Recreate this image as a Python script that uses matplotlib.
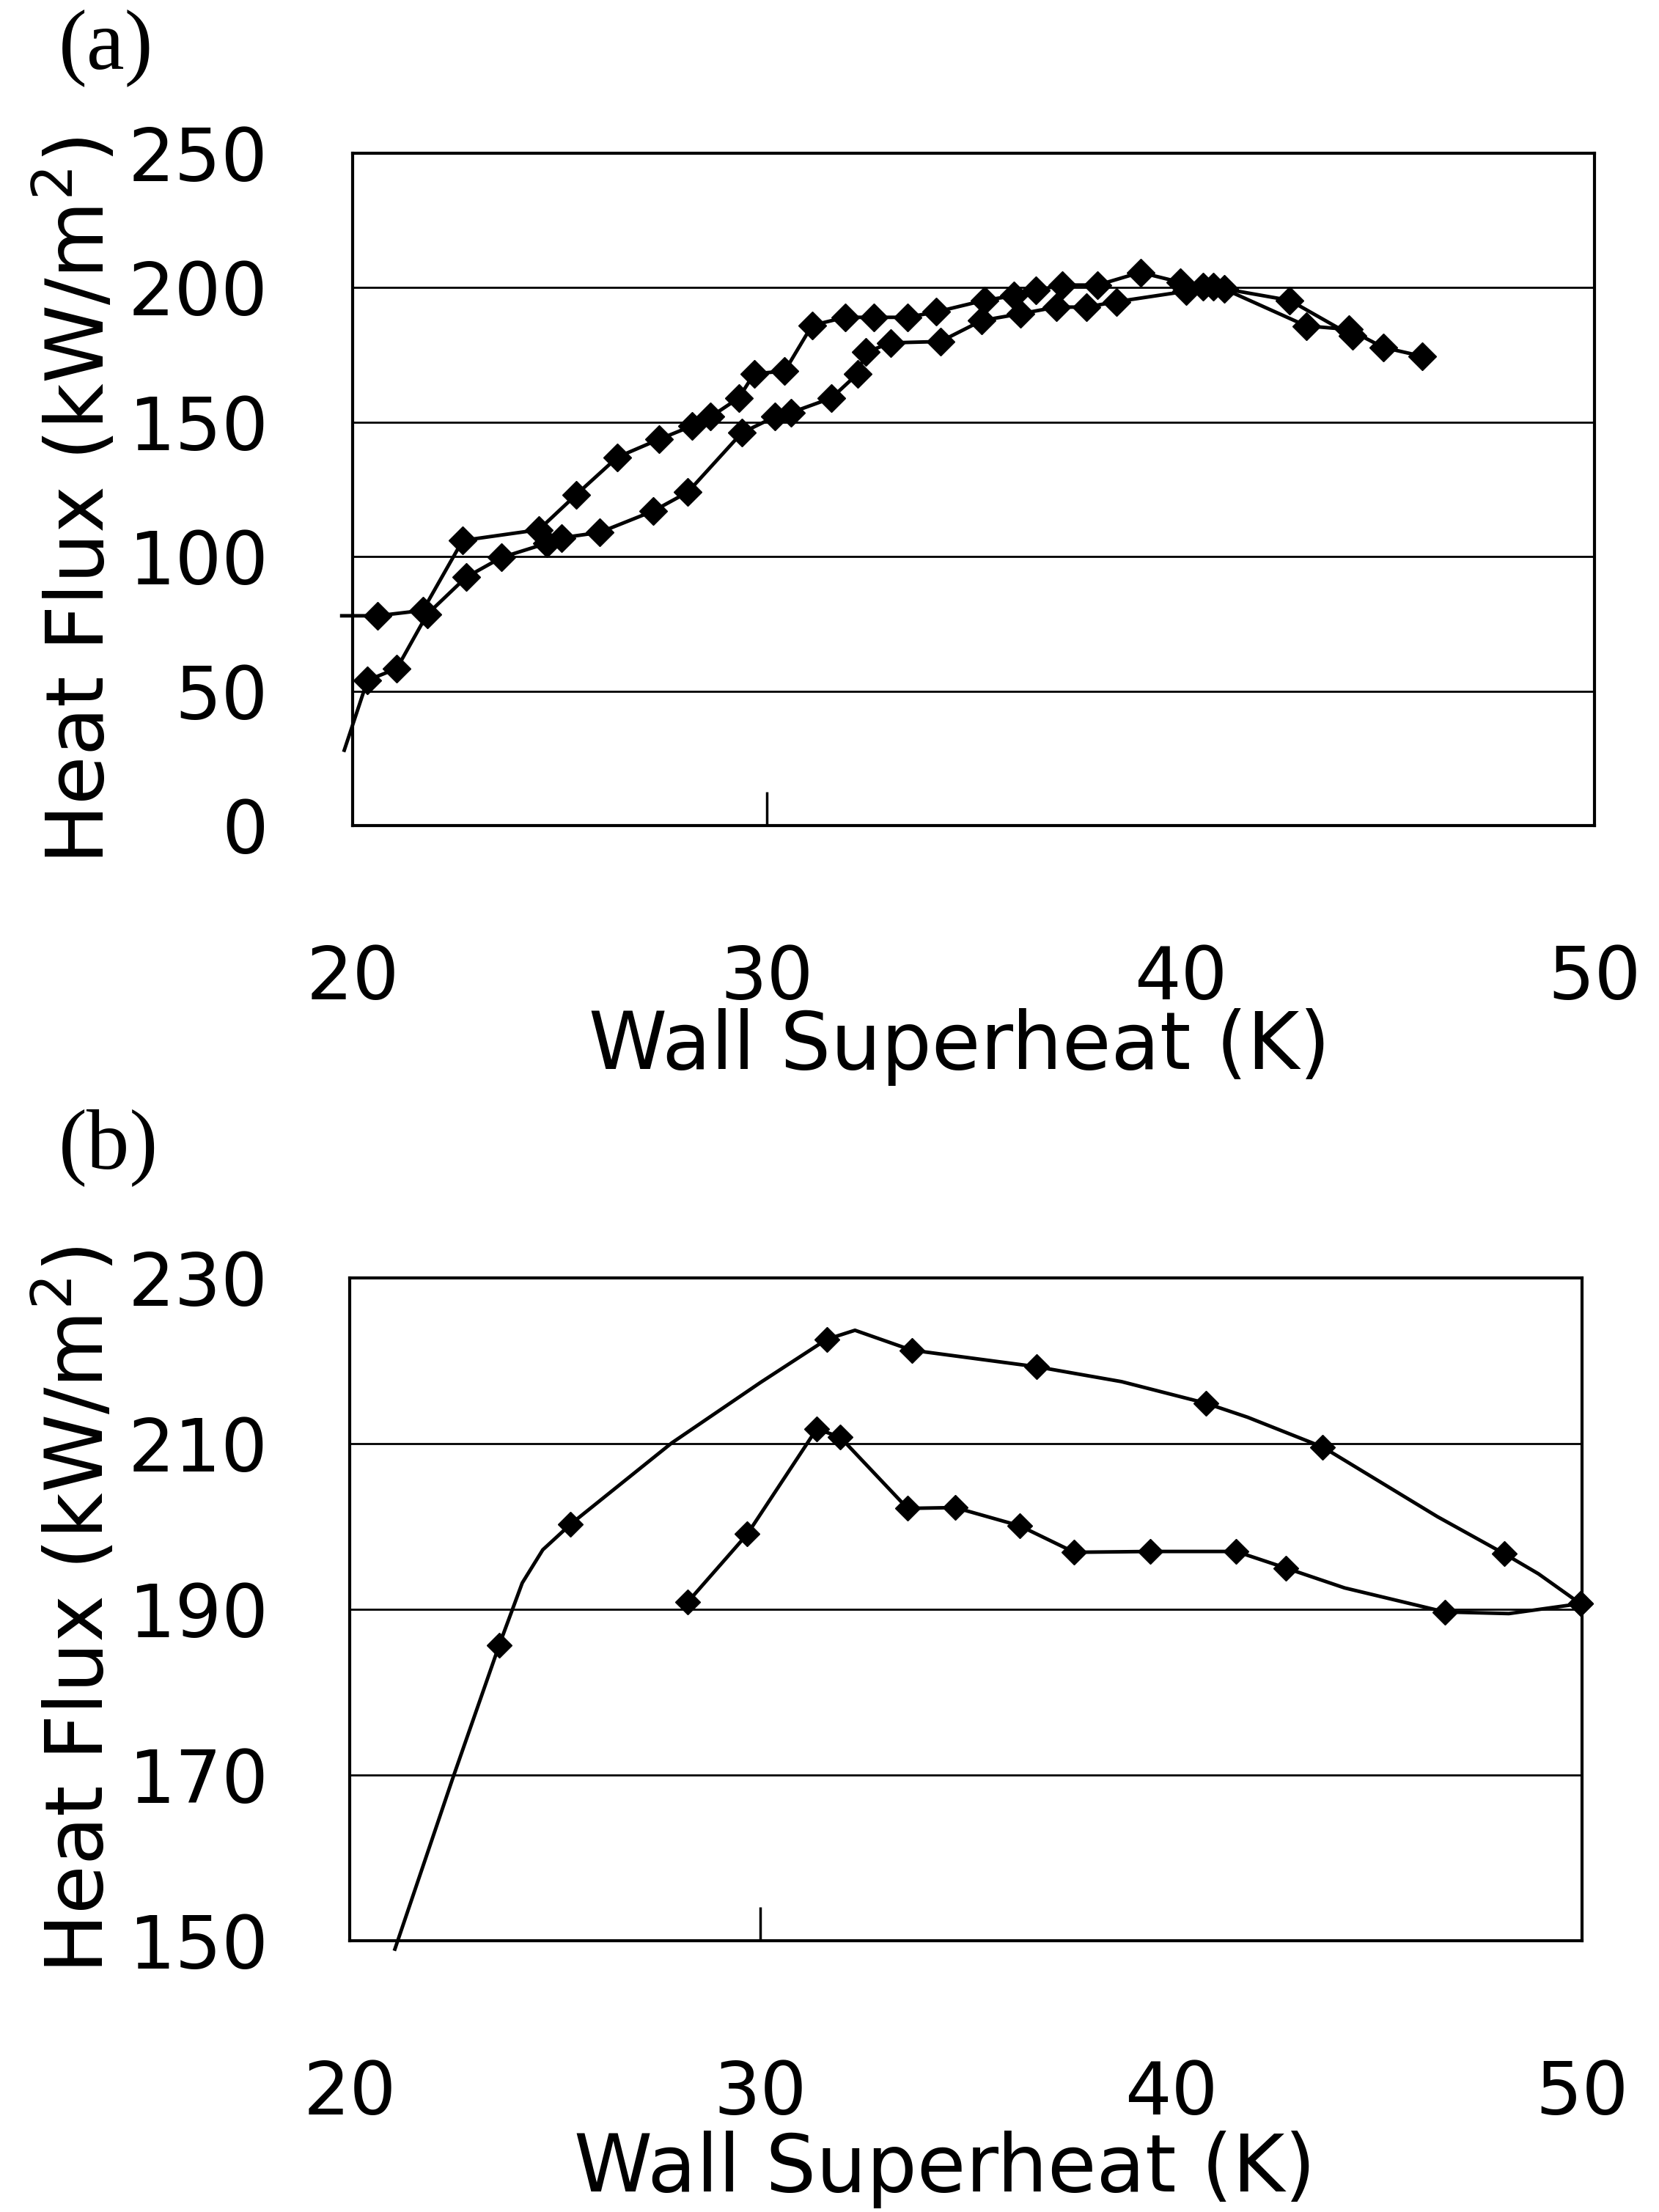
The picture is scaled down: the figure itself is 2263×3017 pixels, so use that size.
import numpy as np
import matplotlib
matplotlib.use('Agg')
import matplotlib.pyplot as plt

# ---- panel (a) : two boiling curves ----
a1_x = [19.74, 20.6, 21.7, 22.66, 24.5, 25.4, 26.4, 27.4, 28.2, 28.65, 29.33, 29.7,
        30.44, 31.1, 31.9, 32.6, 33.4, 34.1, 35.26, 35.97, 36.5, 37.14, 38.0, 39.03,
        40.0, 40.55, 41.06, 43.04, 44.06, 44.9, 45.84]
a1_y = [78, 78, 80, 106, 110, 123, 137, 143.6, 148.6, 152, 159, 168,
        169, 186, 189, 189, 189, 191, 195.3, 197, 199, 201, 201, 205.7,
        202, 200.3, 199.5, 185.8, 184.5, 177.8, 174.5]

a2_x = [19.8, 20.36, 21.07, 21.8, 22.74, 23.6, 24.7, 25.05, 25.97, 27.27, 28.1, 29.4,
        30.2, 30.6, 31.57, 32.2, 32.4, 33.0, 34.2, 35.2, 36.13, 37.0, 37.73, 38.45,
        40.14, 40.8, 42.64, 44.16]
a2_y = [28, 54, 58.4, 78.5, 92.3, 99.7, 105, 107, 109, 117, 124, 146,
        152, 153.6, 159, 168, 176, 179.5, 180, 187.8, 190.3, 192.8, 192.8, 194.8,
        198.7, 200.3, 195.3, 182]

# ---- panel (b) : smoothed curves (trace) and measured points ----
b1_line_x = [21.1, 22.5, 23.64, 24.2, 24.7, 25.38, 27.84, 30.0, 31.61, 32.3, 33.68,
             36.72, 38.79, 40.84, 41.86, 43.69, 46.48, 48.1, 48.94, 49.96]
b1_line_y = [149, 169.5, 185.7, 193.2, 197.2, 200.3, 210.1, 217.4, 222.6, 223.7, 221.3,
             219.3, 217.5, 214.9, 213.2, 209.6, 201.2, 196.75, 194.3, 190.7]
b1_pt_x = [23.64, 25.38, 31.61, 33.68, 36.72, 40.84, 43.69, 48.1, 49.96]
b1_pt_y = [185.7, 200.3, 222.6, 221.3, 219.3, 214.9, 209.6, 196.75, 190.7]

b2_line_x = [28.23, 29.68, 31.37, 31.94, 33.58, 34.74, 36.31, 37.64, 39.49, 41.58,
             42.79, 44.22, 46.66, 48.22, 49.96]
b2_line_y = [190.9, 199.1, 211.8, 210.8, 202.2, 202.3, 200.1, 196.9, 197.0, 197.0,
             195.0, 192.6, 189.7, 189.5, 190.7]
b2_pt_x = [28.23, 29.68, 31.37, 31.94, 33.58, 34.74, 36.31, 37.64, 39.49, 41.58,
           42.79, 46.66, 49.96]
b2_pt_y = [190.9, 199.1, 211.8, 210.8, 202.2, 202.3, 200.1, 196.9, 197.0, 197.0,
           195.0, 189.7, 190.7]

xticks_marked = [30]          # only this one shows a tick mark
xticks_plain = [20, 40, 50]   # labels only
a_yticks = [0, 50, 100, 150, 200, 250]
b_yticks = [150, 170, 190, 210, 230]

plt.rcParams['font.family'] = ['DejaVu Sans']

fig = plt.figure(figsize=(22.63, 30.17), dpi=100)
ax1 = fig.add_axes([0.2125, 0.6268, 0.7486, 0.3039])
ax2 = fig.add_axes([0.2108, 0.1226, 0.7428, 0.2996])


def style(ax, yticks, ypad, xlab_xy, ylab_xy):
    ax.set_xlim(20, 50)
    ax.set_ylim(yticks[0], yticks[-1])
    ax.set_xticks(xticks_marked)
    ax.set_xticks(xticks_plain, minor=True)
    ax.set_xticklabels([str(v) for v in xticks_plain], minor=True)
    ax.tick_params(axis='x', which='major', direction='in', length=33, width=2.5,
                   pad=116, labelsize=72, top=False)
    ax.tick_params(axis='x', which='minor', length=0, pad=116, labelsize=72, top=False)
    ax.set_yticks(yticks)
    ax.tick_params(axis='y', length=0, pad=ypad, labelsize=72)
    for lab in ax.get_yticklabels():
        lab.set_va('center_baseline')
    ax.grid(axis='y', which='major', color='black', lw=2.0)
    ax.set_axisbelow(True)
    for s in ax.spines.values():
        s.set_linewidth(3.0)
    ax.set_xlabel('Wall Superheat (K)', fontsize=78)
    ax.xaxis.label.set_va('center')
    ax.xaxis.set_label_coords(*xlab_xy)
    ax.set_ylabel('Heat Flux (kW/m$^2$)', fontsize=78)
    ax.yaxis.label.set_va('center')
    ax.yaxis.set_label_coords(*ylab_xy)


style(ax1, a_yticks, 83, (0.489, -0.329), (-0.221, 0.483))
style(ax2, b_yticks, 80, (0.483, -0.345), (-0.221, 0.5))

mk = dict(color='black', lw=3.5, marker='D', markersize=19, clip_on=False)
ax1.plot(a1_x, a1_y, markevery=slice(1, None), **mk)
ax1.plot(a2_x, a2_y, markevery=slice(1, None), **mk)

ax2.plot(b1_line_x, b1_line_y, color='black', lw=3.5, clip_on=False)
ax2.plot(b2_line_x, b2_line_y, color='black', lw=3.5, clip_on=False)
ax2.plot(b1_pt_x, b1_pt_y, ls='none', marker='D', markersize=17, color='black', clip_on=False)
ax2.plot(b2_pt_x, b2_pt_y, ls='none', marker='D', markersize=17, color='black', clip_on=False)

fig.text(80 / 2263, 1 - 12 / 3017, '(a)', ha='left', va='top', fontsize=84,
         family=['Liberation Serif', 'DejaVu Serif'])
fig.text(80 / 2263, 1 - 1512 / 3017, '(b)', ha='left', va='top', fontsize=84,
         family=['Liberation Serif', 'DejaVu Serif'])

fig.savefig('out.png', dpi=100)
